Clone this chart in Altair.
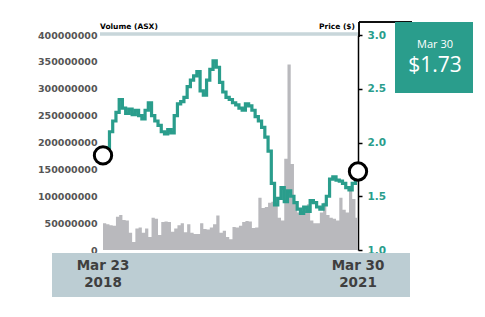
import altair as alt
import pandas as pd

# ---- data ----
start = pd.Timestamp("2018-03-23")
n_steps = 79
dates = [start + pd.Timedelta(days=14 * i) for i in range(n_steps)] + [pd.Timestamp("2021-03-30")]

price = [1.88, 1.95, 2.10, 2.20, 2.28, 2.40, 2.32, 2.27, 2.31, 2.26,
         2.30, 2.25, 2.22, 2.30, 2.37, 2.25, 2.20, 2.16, 2.10, 2.08,
         2.12, 2.09, 2.25, 2.36, 2.38, 2.42, 2.52, 2.58, 2.62, 2.66,
         2.48, 2.44, 2.58, 2.68, 2.76, 2.70, 2.56, 2.47, 2.42, 2.40,
         2.37, 2.35, 2.32, 2.30, 2.36, 2.34, 2.30, 2.24, 2.20, 2.14,
         2.05, 1.92, 1.62, 1.42, 1.48, 1.58, 1.45, 1.55, 1.50, 1.44,
         1.38, 1.34, 1.40, 1.36, 1.46, 1.44, 1.40, 1.38, 1.42, 1.50,
         1.66, 1.68, 1.65, 1.64, 1.62, 1.58, 1.56, 1.62, 1.68, 1.73]

volume_m = [50, 48, 46, 45, 62, 65, 56, 55, 32, 15,
            40, 42, 32, 40, 24, 60, 58, 28, 52, 53,
            52, 34, 40, 46, 50, 33, 48, 32, 30, 30,
            50, 39, 38, 42, 48, 64, 32, 36, 24, 20,
            43, 42, 45, 52, 54, 53, 41, 42, 97, 78,
            80, 88, 90, 86, 60, 55, 170, 345, 160, 90,
            70, 68, 72, 85, 55, 50, 50, 70, 88, 65,
            60, 58, 55, 97, 75, 70, 110, 95, 60, 55]

vol_ticks = [0, 50000000, 100000000, 150000000, 200000000,
             250000000, 300000000, 350000000, 400000000]
price_ticks = [1.0, 1.5, 2.0, 2.5, 3.0]

date_line1 = ["Mar 23", "Mar 30"]
date_line2 = ["2018", "2021"]
last_label_date = "Mar 30"
last_label_price = "$1.73"
vol_title = "Volume (ASX)"
price_title = "Price ($)"

TEAL = "#2a9d8c"
GRAY = "#b9b9bd"
BAND = "#bccdd3"
DARK = "#3f3f3f"

df = pd.DataFrame({
    "date": dates,
    "price": price,
    "volume": [v * 1_000_000 for v in volume_m],
})
ends = df.iloc[[0, -1]].copy()
ends["l1"] = date_line1
ends["l2"] = date_line2

x_scale = alt.Scale(domain=[dates[0].isoformat(), dates[-1].isoformat()])
x_enc = alt.X("date:T", scale=x_scale, axis=None)

W, H = 255, 215

volume = alt.Chart(df).mark_area(color=GRAY, interpolate="step-after", clip=True).encode(
    x=x_enc,
    y=alt.Y("volume:Q",
            scale=alt.Scale(domain=[0, 400000000], nice=False),
            axis=alt.Axis(values=vol_ticks, format="d", title=None, orient="left",
                          domain=False, ticks=False, grid=False, labelPadding=6,
                          labelFont="DejaVu Sans", labelFontWeight="bold",
                          labelFontSize=9.5, labelColor="#555555")),
)

price_scale = alt.Scale(domain=[1.0, 3.0], nice=False)
price_axis = alt.Axis(values=price_ticks, format=".1f", title=None, orient="right",
                      domain=True, domainColor="black", domainWidth=1.5,
                      ticks=True, tickColor="black", tickSize=4, tickWidth=1.5,
                      grid=False, labelPadding=5,
                      labelFont="DejaVu Sans", labelFontWeight="bold",
                      labelFontSize=10.5, labelColor=TEAL)

line = alt.Chart(df).mark_line(color=TEAL, strokeWidth=3.2, interpolate="step-after").encode(
    x=x_enc,
    y=alt.Y("price:Q", scale=price_scale, axis=price_axis),
)

circles = alt.Chart(ends).mark_point(shape="circle", size=300, filled=False, stroke="black",
                                     strokeWidth=3, fill="white", fillOpacity=1).encode(
    x=x_enc,
    y=alt.Y("price:Q", scale=price_scale, axis=None),
)

band = alt.Chart(ends).mark_rect(color=BAND, clip=False).encode(
    x=alt.value(-51), x2=alt.value(307), y=alt.value(218), y2=alt.value(262)
)

date_text1 = alt.Chart(ends).mark_text(font="DejaVu Sans", fontWeight="bold", fontSize=13.5,
                                       color=DARK, baseline="middle", clip=False).encode(
    x=x_enc, y=alt.value(231), text="l1:N"
)
date_text2 = alt.Chart(ends).mark_text(font="DejaVu Sans", fontWeight="bold", fontSize=13.5,
                                       color=DARK, baseline="middle", clip=False).encode(
    x=x_enc, y=alt.value(248), text="l2:N"
)

top_line = alt.Chart(ends).mark_rule(color="#c8d6da", strokeWidth=3).encode(
    x=alt.value(-3), x2=alt.value(W), y=alt.value(-1)
)

axis_ext = alt.Chart(ends).mark_rule(color="black", strokeWidth=1.5).encode(
    x=alt.value(W + 1), y=alt.value(-13), y2=alt.value(2)
)
axis_top = alt.Chart(ends).mark_rule(color="black", strokeWidth=1.5).encode(
    x=alt.value(W + 1), x2=alt.value(W + 54), y=alt.value(-13)
)

box = alt.Chart(ends).mark_rect(color=TEAL, clip=False).encode(
    x=alt.value(292), x2=alt.value(370), y=alt.value(-13), y2=alt.value(58)
)
box_date = alt.Chart(ends.iloc[[-1]]).mark_text(
    font="Open Sans", fontSize=11, color="white", align="center", baseline="middle"
).encode(x=alt.value(332), y=alt.value(10), text=alt.value(last_label_date))
box_price = alt.Chart(ends.iloc[[-1]]).mark_text(
    font="Open Sans", fontSize=21, color="white", align="center", baseline="middle"
).encode(x=alt.value(332), y=alt.value(31), text=alt.value(last_label_price))

vol_t = alt.Chart(ends.iloc[[0]]).mark_text(
    font="DejaVu Sans", fontWeight="bold", fontSize=7.5, color="black", align="left",
    baseline="middle"
).encode(x=alt.value(-3), y=alt.value(-8), text=alt.value(vol_title))
price_t = alt.Chart(ends.iloc[[0]]).mark_text(
    font="DejaVu Sans", fontWeight="bold", fontSize=7.5, color="black", align="right",
    baseline="middle"
).encode(x=alt.value(W - 3), y=alt.value(-8), text=alt.value(price_title))

chart = alt.layer(
    band, date_text1, date_text2, top_line, volume, line, circles,
    axis_ext, axis_top, box, box_date, box_price, vol_t, price_t
).resolve_scale(y="independent").properties(
    width=W, height=H,
    autosize=alt.AutoSizeParams(type="none"),
    padding={"left": 103, "top": 35, "right": 127, "bottom": 67},
    background="white",
).configure_view(stroke=None)

chart.save("out.html", embed_options={"renderer": "svg", "actions": False})
